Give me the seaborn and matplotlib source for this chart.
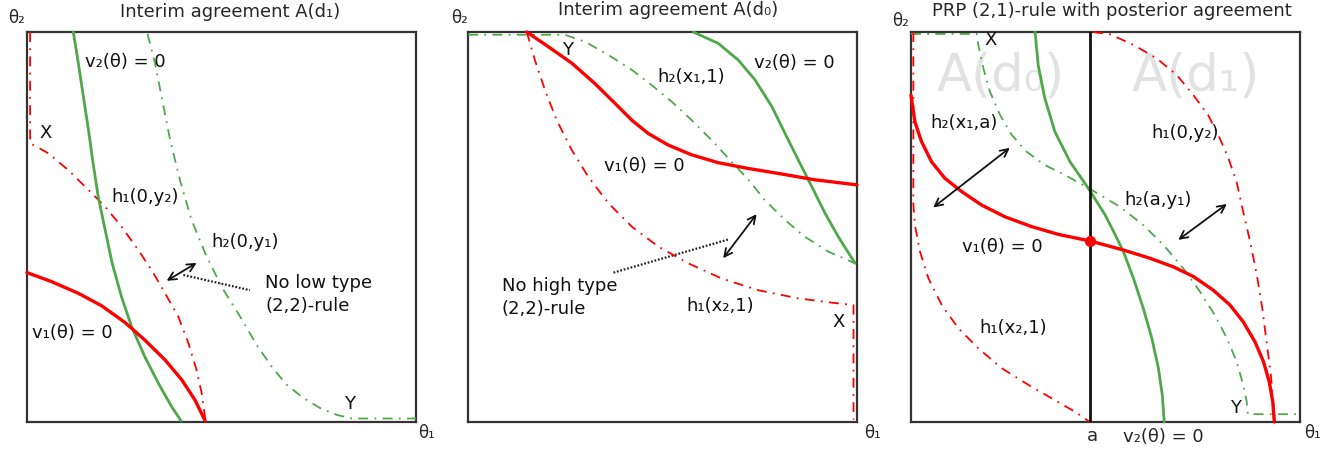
import matplotlib
matplotlib.use("Agg")
import matplotlib.pyplot as plt
import seaborn as sns

sns.set_style("white")
plt.rcParams['font.family'] = ['DejaVu Sans']

RED = "#ff0000"
GREEN = "#4ea84a"
DASHDOT = (0, (5.5, 3.5, 1, 3.5))

# ---------------- Panel 1 : Interim agreement A(d1) ----------------
p1_v2 = [(0.119, 1.0), (0.132, 0.920), (0.145, 0.834), (0.158, 0.749), (0.170, 0.663),
         (0.183, 0.578), (0.201, 0.492), (0.219, 0.407), (0.243, 0.321), (0.269, 0.244),
         (0.303, 0.167), (0.338, 0.099), (0.372, 0.039), (0.396, 0.003)]
p1_v1 = [(0.0, 0.383), (0.063, 0.360), (0.132, 0.330), (0.192, 0.298), (0.252, 0.255),
         (0.303, 0.210), (0.355, 0.159), (0.398, 0.108), (0.432, 0.056), (0.458, 0.003)]
p1_h1 = [(0.008, 1.0), (0.008, 0.715), (0.055, 0.689), (0.106, 0.646), (0.158, 0.595),
         (0.201, 0.552), (0.243, 0.501), (0.286, 0.441), (0.320, 0.390), (0.355, 0.330),
         (0.389, 0.270), (0.415, 0.202), (0.436, 0.133), (0.449, 0.074), (0.459, 0.003)]
p1_h2 = [(0.310, 0.995), (0.329, 0.920), (0.346, 0.834), (0.368, 0.723), (0.393, 0.621),
         (0.423, 0.518), (0.458, 0.433), (0.500, 0.347), (0.548, 0.270), (0.594, 0.192),
         (0.632, 0.138), (0.668, 0.095), (0.710, 0.062), (0.753, 0.036), (0.797, 0.018),
         (0.835, 0.009), (1.0, 0.009)]
p1_labels = [("v₂(θ) = 0", 0.149, 0.924), ("X", 0.033, 0.740), ("h₁(0,y₂)", 0.216, 0.578),
             ("h₂(0,y₁)", 0.473, 0.462), ("No low type\n(2,2)-rule", 0.612, 0.327),
             ("v₁(θ) = 0", 0.014, 0.227), ("Y", 0.815, 0.047)]
p1_arrows = [((0.359, 0.362), (0.436, 0.408))]
p1_dotted = [((0.402, 0.377), (0.573, 0.338))]
p1_title = "Interim agreement A(d₁)"

# ---------------- Panel 2 : Interim agreement A(d0) ----------------
p2_h2 = [(0.0, 0.993), (0.249, 0.993), (0.301, 0.975), (0.361, 0.941), (0.421, 0.903),
         (0.472, 0.864), (0.524, 0.821), (0.575, 0.774), (0.626, 0.723), (0.678, 0.667),
         (0.721, 0.621), (0.763, 0.569), (0.815, 0.518), (0.866, 0.475), (0.926, 0.437),
         (0.995, 0.407)]
p2_v1 = [(0.151, 1.0), (0.207, 0.962), (0.267, 0.920), (0.326, 0.868), (0.378, 0.817),
         (0.421, 0.774), (0.463, 0.740), (0.515, 0.710), (0.575, 0.685), (0.643, 0.665),
         (0.721, 0.650), (0.806, 0.636), (0.892, 0.621), (1.0, 0.608)]
p2_v2 = [(0.579, 1.0), (0.643, 0.971), (0.695, 0.928), (0.738, 0.877), (0.781, 0.809),
         (0.815, 0.740), (0.849, 0.672), (0.884, 0.603), (0.918, 0.535), (0.952, 0.475),
         (0.995, 0.407)]
p2_h1 = [(0.151, 1.0), (0.172, 0.928), (0.198, 0.851), (0.228, 0.774), (0.267, 0.697),
         (0.309, 0.629), (0.361, 0.561), (0.421, 0.501), (0.489, 0.450), (0.566, 0.407),
         (0.652, 0.368), (0.746, 0.338), (0.849, 0.317), (0.935, 0.306), (0.991, 0.300),
         (0.991, 0.006)]
p2_labels = [("Y", 0.242, 0.954), ("h₂(x₁,1)", 0.488, 0.885), ("v₂(θ) = 0", 0.736, 0.921),
             ("v₁(θ) = 0", 0.350, 0.656), ("No high type\n(2,2)-rule", 0.087, 0.319),
             ("h₁(x₂,1)", 0.562, 0.297), ("X", 0.936, 0.257)]
p2_arrows = [((0.656, 0.420), (0.742, 0.533))]
p2_dotted = [((0.374, 0.383), (0.669, 0.468))]
p2_title = "Interim agreement A(d₀)"

# ---------------- Panel 3 : PRP (2,1)-rule ----------------
p3_a = 0.461
p3_h2 = [(0.0, 0.995), (0.169, 0.995), (0.173, 0.967), (0.186, 0.907), (0.203, 0.847),
         (0.229, 0.787), (0.259, 0.736), (0.297, 0.693), (0.344, 0.659), (0.396, 0.633),
         (0.456, 0.600), (0.537, 0.552), (0.597, 0.505), (0.649, 0.454), (0.700, 0.394),
         (0.743, 0.334), (0.781, 0.274), (0.812, 0.215), (0.837, 0.155), (0.854, 0.095),
         (0.863, 0.052), (0.866, 0.020), (1.0, 0.020)]
p3_v2 = [(0.319, 1.0), (0.327, 0.915), (0.344, 0.830), (0.370, 0.744), (0.409, 0.667),
         (0.456, 0.599), (0.499, 0.531), (0.525, 0.480), (0.546, 0.437), (0.572, 0.368),
         (0.597, 0.292), (0.619, 0.215), (0.636, 0.138), (0.646, 0.069), (0.651, 0.0)]
p3_v1 = [(0.0, 0.838), (0.010, 0.770), (0.027, 0.719), (0.053, 0.667), (0.087, 0.625),
         (0.130, 0.591), (0.182, 0.556), (0.242, 0.526), (0.310, 0.501), (0.379, 0.481),
         (0.461, 0.464), (0.546, 0.441), (0.614, 0.420), (0.674, 0.398), (0.726, 0.373),
         (0.777, 0.338), (0.820, 0.300), (0.854, 0.257), (0.884, 0.206), (0.906, 0.155),
         (0.921, 0.103), (0.930, 0.052), (0.934, 0.0)]
p3_h1_left = [(0.006, 1.0), (0.006, 0.560), (0.010, 0.505), (0.023, 0.437), (0.045, 0.368),
              (0.079, 0.300), (0.122, 0.240), (0.173, 0.189), (0.233, 0.138), (0.302, 0.095),
              (0.370, 0.056), (0.422, 0.026), (0.460, 0.0)]
p3_h1_right = [(0.468, 1.0), (0.512, 0.994), (0.572, 0.967), (0.632, 0.932), (0.683, 0.890),
               (0.726, 0.838), (0.764, 0.787), (0.794, 0.727), (0.816, 0.676), (0.837, 0.616),
               (0.854, 0.539), (0.872, 0.462), (0.889, 0.377), (0.903, 0.292), (0.914, 0.206),
               (0.925, 0.121), (0.931, 0.052), (0.936, 0.0)]
p3_point = [(0.461, 0.464)]
p3_labels = [("X", 0.190, 0.979), ("h₂(x₁,a)", 0.051, 0.766), ("h₁(0,y₂)", 0.619, 0.740),
             ("h₂(a,y₁)", 0.548, 0.569), ("v₁(θ) = 0", 0.130, 0.450),
             ("h₁(x₂,1)", 0.177, 0.240), ("Y", 0.820, 0.035)]
p3_water = [("A(d₀)", 0.231, 0.884), ("A(d₁)", 0.732, 0.884)]
p3_arrows = [((0.057, 0.550), (0.254, 0.703)), ((0.687, 0.467), (0.812, 0.559))]
p3_title = "PRP (2,1)-rule with posterior agreement"
p3_below = [("a", 0.452, -0.035), ("v₂(θ) = 0", 0.545, -0.038)]

FS = 13

fig = plt.figure(figsize=(13.35, 4.5), dpi=100)
lefts = [27, 468, 911]
axes = []
for L in lefts:
    ax = fig.add_axes([L / 1335, 28 / 450, 389 / 1335, 390 / 450])
    ax.set_xlim(0, 1)
    ax.set_ylim(0, 1)
    ax.set_xticks([])
    ax.set_yticks([])
    for s in ax.spines.values():
        s.set_color("#333333")
        s.set_linewidth(1.6)
    axes.append(ax)


def curve(ax, pts, color, lw, ls="-", z=3):
    xs = [p[0] for p in pts]
    ys = [p[1] for p in pts]
    sns.lineplot(x=xs, y=ys, sort=False, estimator=None, ax=ax, color=color,
                 linewidth=lw, linestyle=ls, zorder=z, clip_on=False)
    ax.set_xlabel("")
    ax.set_ylabel("")


def labels(ax, lab):
    for t, x, y in lab:
        ax.text(x, y, t, fontsize=FS, ha="left", va="center", color="#111111",
                linespacing=1.4, zorder=6)


def arrows(ax, arr):
    for a, b in arr:
        ax.annotate("", xy=b, xytext=a,
                    arrowprops=dict(arrowstyle="<->", color="#111111", lw=1.3,
                                    mutation_scale=14, shrinkA=0, shrinkB=0))


def dotted(ax, segs):
    for a, b in segs:
        ax.plot([a[0], b[0]], [a[1], b[1]], color="#222222", lw=1.6, linestyle=(0, (0.8, 0.8)))


def corner_labels(ax, x2, y2, x1, y1):
    ax.text(x2, y2, "θ₂", fontsize=FS - 1, ha="center", va="center", clip_on=False)
    ax.text(x1, y1, "θ₁", fontsize=FS - 1, ha="center", va="center", clip_on=False)


# Panel 1
ax = axes[0]
curve(ax, p1_h2, GREEN, 1.3, DASHDOT)
curve(ax, p1_h1, RED, 1.3, DASHDOT)
curve(ax, p1_v2, GREEN, 2.0)
curve(ax, p1_v1, RED, 2.4)
labels(ax, p1_labels)
arrows(ax, p1_arrows)
dotted(ax, p1_dotted)
ax.text(0.522, 1.052, p1_title, fontsize=FS, ha="center", va="center")
corner_labels(ax, -0.026, 1.036, 1.028, -0.028)

# Panel 2
ax = axes[1]
curve(ax, p2_h2, GREEN, 1.3, DASHDOT)
curve(ax, p2_h1, RED, 1.3, DASHDOT)
curve(ax, p2_v2, GREEN, 2.0)
curve(ax, p2_v1, RED, 2.4)
labels(ax, p2_labels)
arrows(ax, p2_arrows)
dotted(ax, p2_dotted)
ax.text(0.514, 1.056, p2_title, fontsize=FS, ha="center", va="center")
corner_labels(ax, -0.021, 1.036, 1.039, -0.028)

# Panel 3
ax = axes[2]
for t, x, y in p3_water:
    ax.text(x, y, t, fontsize=37, ha="center", va="center", color="#e2e2e2", zorder=1)
ax.axvline(p3_a, color="#111111", lw=2.0, zorder=4)
curve(ax, p3_h2, GREEN, 1.3, DASHDOT)
curve(ax, p3_h1_left, RED, 1.3, DASHDOT)
curve(ax, p3_h1_right, RED, 1.3, DASHDOT)
curve(ax, p3_v2, GREEN, 2.0)
curve(ax, p3_v1, RED, 2.4)
sns.scatterplot(x=[p[0] for p in p3_point], y=[p[1] for p in p3_point], ax=ax,
                color=RED, s=55, zorder=7, edgecolor=RED, legend=False)
labels(ax, p3_labels)
arrows(ax, p3_arrows)
for t, x, y in p3_below:
    ax.text(x, y, t, fontsize=FS, ha="left", va="center", clip_on=False)
ax.text(0.517, 1.054, p3_title, fontsize=FS, ha="center", va="center")
corner_labels(ax, -0.026, 1.028, 1.033, -0.028)

fig.savefig("out.png", dpi=100)
